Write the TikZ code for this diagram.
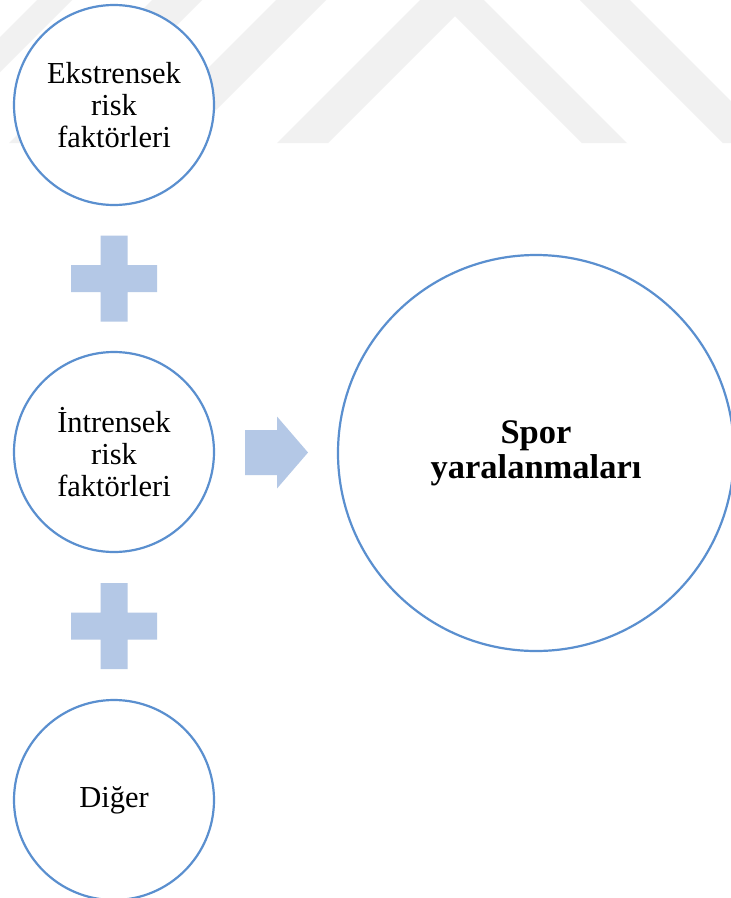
\documentclass[tikz,border=0pt]{standalone}
\usepackage{fontspec}
\setmainfont{Liberation Serif}
\usetikzlibrary{calc}
\definecolor{ring}{HTML}{5A8FCF}
\definecolor{plusfill}{HTML}{B4C8E6}
\definecolor{wm}{HTML}{F1F1F1}
\tikzset{
  circ/.style={circle, draw=ring, line width=2.2pt, fill=white, inner sep=0pt, outer sep=0pt,
    minimum size=200pt, align=center, font=\fontsize{30.5}{32}\selectfont},
  bigcirc/.style={circ, minimum size=396pt, font=\fontsize{34.5}{35}\selectfont\bfseries},
  shapefill/.style={fill=plusfill},
  wmark/.style={fill=wm}
}
\begin{document}
\begin{tikzpicture}[x=1pt,y=-1pt]
\clip (0,0) rectangle (731,898);
\fill[white] (0,0) rectangle (731,898);
% faint watermark
\begin{scope}
  \clip (-10,-10) rectangle (741,143);
  \fill[wmark] (277,143) -- (452,-32) -- (627,143) -- (582,143) -- (455,16) -- (328,143) -- cycle;
  \fill[wmark] (580,0) -- (630,0) -- (773,143) -- (723,143) -- cycle;
  \fill[wmark] (37,0) -- (72,0) -- (-71,143) -- (-106,143) -- cycle;
  \fill[wmark] (152,0) -- (202,0) -- (59,143) -- (9,143) -- cycle;
  \fill[wmark] (276,0) -- (326,0) -- (183,143) -- (133,143) -- cycle;
\end{scope}
% circles
\node[circ] (ext) at (114,105) {Ekstrensek\\risk\\faktörleri};
\node[circ] (int) at (114,452) {İntrensek\\risk\\faktörleri};
\node[circ] (dig) at (114,800) {Diğer};
\node[bigcirc] (spor) at (536,453) {Spor\\yaralanmaları};
% plus signs
\coordinate (p1) at ($(ext.south)!0.5!(int.north)$);
\coordinate (p2) at ($(int.south)!0.5!(dig.north)$);
\foreach \p in {p1,p2}{
  \fill[shapefill, shift={(\p)}] (-13.5,-43) -- (13.5,-43) -- (13.5,-13.5) -- (43,-13.5) -- (43,13.5)
    -- (13.5,13.5) -- (13.5,43) -- (-13.5,43) -- (-13.5,13.5) -- (-43,13.5) -- (-43,-13.5)
    -- (-13.5,-13.5) -- cycle;
}
% arrow
\coordinate (ar) at ($(int.east)!0.5!(spor.west)$);
\fill[shapefill, shift={(ar)}] (-31,-22.5) -- (1,-22.5) -- (1,-36) -- (32,0) -- (1,36) -- (1,22.5)
  -- (-31,22.5) -- cycle;
\end{tikzpicture}
\end{document}
